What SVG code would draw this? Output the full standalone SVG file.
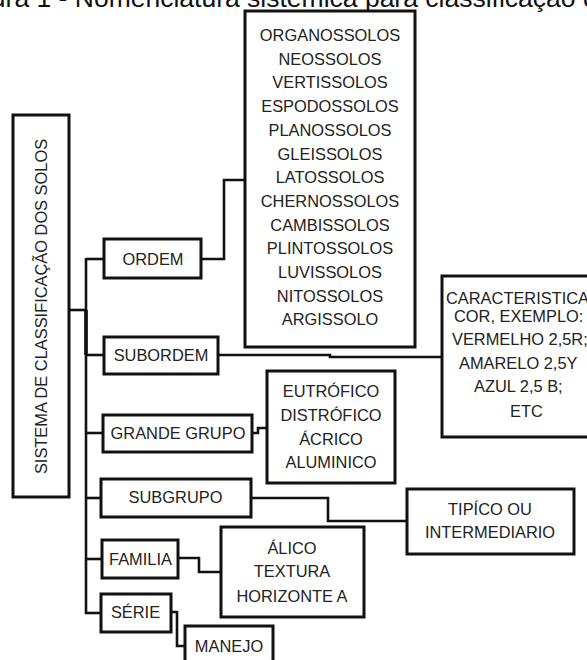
<svg xmlns="http://www.w3.org/2000/svg" width="587" height="660" viewBox="0 0 587 660">
<style>
.box{fill:#fff;stroke:#111;stroke-width:3}
.ln{fill:none;stroke:#111;stroke-width:2.6;stroke-linejoin:miter}
text{font-family:"Liberation Sans",Arial,sans-serif;font-size:16.4px;fill:#222}
.c{text-anchor:middle}
.title{font-size:26.5px;fill:#111}
</style>
<rect width="587" height="660" fill="#fff"/>
<text class="title" x="-46" y="6.5">Figura 1 - Nomenclatura sistemica para classificação dos solos</text>

<g id="connectors">
<polyline class="ln" points="69,310 86,310"/>
<line class="ln" x1="86" y1="258" x2="86" y2="614"/>
<line x1="86" y1="310" x2="86" y2="355" stroke="#111" stroke-width="3.6"/>
<polyline class="ln" points="86,259 104,259"/>
<polyline class="ln" points="86,355 104,355"/>
<polyline class="ln" points="86,433 103,433"/>
<polyline class="ln" points="86,498 101,498"/>
<polyline class="ln" points="86,559 102,559"/>
<polyline class="ln" points="85,613 101,613"/>
<polyline class="ln" points="201,259 224,259 224,180 245,180"/>
<polyline class="ln" points="218,355 330,355 330,357 442,357"/>
<polyline class="ln" points="252,433 258,433 258,428 267,428"/>
<polyline class="ln" points="251,498 328,498 328,521 407,521"/>
<polyline class="ln" points="178,558 199,558 199,572 221,572"/>
<polyline class="ln" points="171,612 177,612 177,646 185,646"/>
</g>

<g id="sistema">
<rect class="box" x="13" y="115" width="56" height="382"/>
<text class="c" transform="translate(47,306.5) rotate(-90)">SISTEMA DE CLASSIFICAÇÃO DOS SOLOS</text>
</g>

<g id="ordem">
<rect class="box" x="104" y="239" width="97" height="39"/>
<text class="c" x="153" y="265">ORDEM</text>
</g>

<g id="subordem">
<rect class="box" x="104" y="337" width="114" height="37"/>
<text class="c" x="161" y="361">SUBORDEM</text>
</g>

<g id="grande-grupo">
<rect class="box" x="103" y="415" width="149" height="37"/>
<text class="c" x="178" y="439">GRANDE GRUPO</text>
</g>

<g id="subgrupo">
<rect class="box" x="101" y="479" width="150" height="38"/>
<text class="c" x="175.5" y="503">SUBGRUPO</text>
</g>

<g id="familia">
<rect class="box" x="102" y="540" width="76" height="38"/>
<text class="c" x="140.5" y="565">FAMILIA</text>
</g>

<g id="serie">
<rect class="box" x="101" y="594" width="70" height="38"/>
<text class="c" x="135.5" y="618">SÉRIE</text>
</g>

<g id="manejo">
<rect class="box" x="185" y="626" width="88" height="44"/>
<text class="c" x="229" y="652">MANEJO</text>
</g>

<g id="ordens">
<rect class="box" x="245" y="11" width="170" height="336"/>
<text class="c" x="330" y="41">ORGANOSSOLOS</text>
<text class="c" x="330" y="64.7">NEOSSOLOS</text>
<text class="c" x="330" y="88.4">VERTISSOLOS</text>
<text class="c" x="330" y="112.1">ESPODOSSOLOS</text>
<text class="c" x="330" y="135.8">PLANOSSOLOS</text>
<text class="c" x="330" y="159.5">GLEISSOLOS</text>
<text class="c" x="330" y="183.2">LATOSSOLOS</text>
<text class="c" x="330" y="206.9">CHERNOSSOLOS</text>
<text class="c" x="330" y="230.6">CAMBISSOLOS</text>
<text class="c" x="330" y="254.3">PLINTOSSOLOS</text>
<text class="c" x="330" y="278">LUVISSOLOS</text>
<text class="c" x="330" y="301.7">NITOSSOLOS</text>
<text class="c" x="330" y="325.4">ARGISSOLO</text>
</g>

<g id="cor">
<rect class="box" x="442" y="276" width="160" height="161"/>
<text x="446" y="304">CARACTERISTICA</text>
<text x="454" y="322">COR, EXEMPLO:</text>
<text x="452" y="345">VERMELHO 2,5R;</text>
<text x="459" y="369">AMARELO 2,5Y</text>
<text x="474" y="392">AZUL 2,5 B;</text>
<text x="510" y="417">ETC</text>
</g>

<g id="grupos">
<rect class="box" x="267" y="371" width="128" height="112"/>
<text class="c" x="331" y="397">EUTRÓFICO</text>
<text class="c" x="331" y="421">DISTRÓFICO</text>
<text class="c" x="331" y="445">ÁCRICO</text>
<text class="c" x="331" y="468">ALUMINICO</text>
</g>

<g id="tipico">
<rect class="box" x="407" y="489" width="167" height="65"/>
<text class="c" x="490" y="515">TIPÍCO OU</text>
<text class="c" x="490" y="538">INTERMEDIARIO</text>
</g>

<g id="alico">
<rect class="box" x="221" y="527" width="143" height="90"/>
<text class="c" x="292" y="554">ÁLICO</text>
<text class="c" x="292" y="577">TEXTURA</text>
<text class="c" x="292" y="601.5">HORIZONTE A</text>
</g>
</svg>
